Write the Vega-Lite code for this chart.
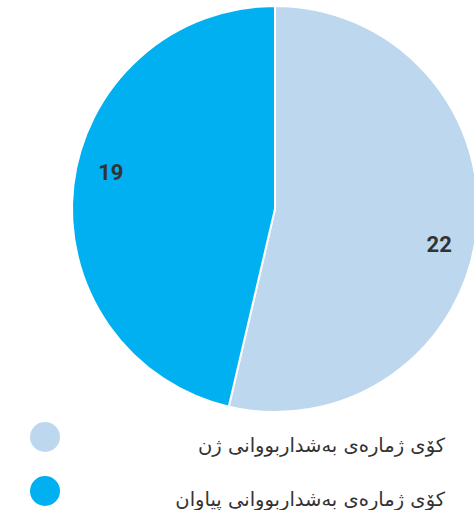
{
  "$schema": "https://vega.github.io/schema/vega-lite/v6.json",
  "width": 398,
  "height": 418,
  "autosize": {"type": "none"},
  "padding": {"left": 76, "top": 0, "right": 0, "bottom": 92},
  "background": "white",
  "view": {"stroke": null},
  "data": {
    "values": [
      {"group": "کۆی ژمارەی بەشداربووانی ژن", "count": 22, "order": 1},
      {"group": "کۆی ژمارەی بەشداربووانی پیاوان", "count": 19, "order": 2}
    ]
  },
  "encoding": {
    "theta": {"field": "count", "type": "quantitative", "stack": true},
    "order": {"field": "order", "type": "quantitative"},
    "color": {
      "field": "group",
      "type": "nominal",
      "sort": ["کۆی ژمارەی بەشداربووانی ژن", "کۆی ژمارەی بەشداربووانی پیاوان"],
      "scale": {
        "domain": ["کۆی ژمارەی بەشداربووانی ژن", "کۆی ژمارەی بەشداربووانی پیاوان"],
        "range": ["#bdd7ee", "#00b0f0"]
      },
      "legend": {
        "title": null,
        "orient": "none",
        "legendX": -46,
        "legendY": 422,
        "padding": 0,
        "symbolType": "circle",
        "symbolSize": 900,
        "symbolStrokeWidth": 0,
        "symbolOpacity": 1,
        "labelFontSize": 19.5,
        "labelFont": "DejaVu Sans",
        "labelColor": "#333333",
        "labelAlign": "right",
        "labelBaseline": "top",
        "labelOffset": 385,
        "labelLimit": 400,
        "rowPadding": 20
      }
    }
  },
  "layer": [
    {
      "mark": {"type": "arc", "radius": 203, "stroke": "white", "strokeWidth": 2}
    },
    {
      "mark": {"type": "text", "radius": 168, "thetaOffset": 0.1, "fontSize": 22, "fontWeight": "bold", "font": "Roboto", "fill": "#333333"},
      "encoding": {
        "text": {"field": "count", "type": "quantitative"},
        "color": {"value": "#333333"}
      }
    }
  ]
}
